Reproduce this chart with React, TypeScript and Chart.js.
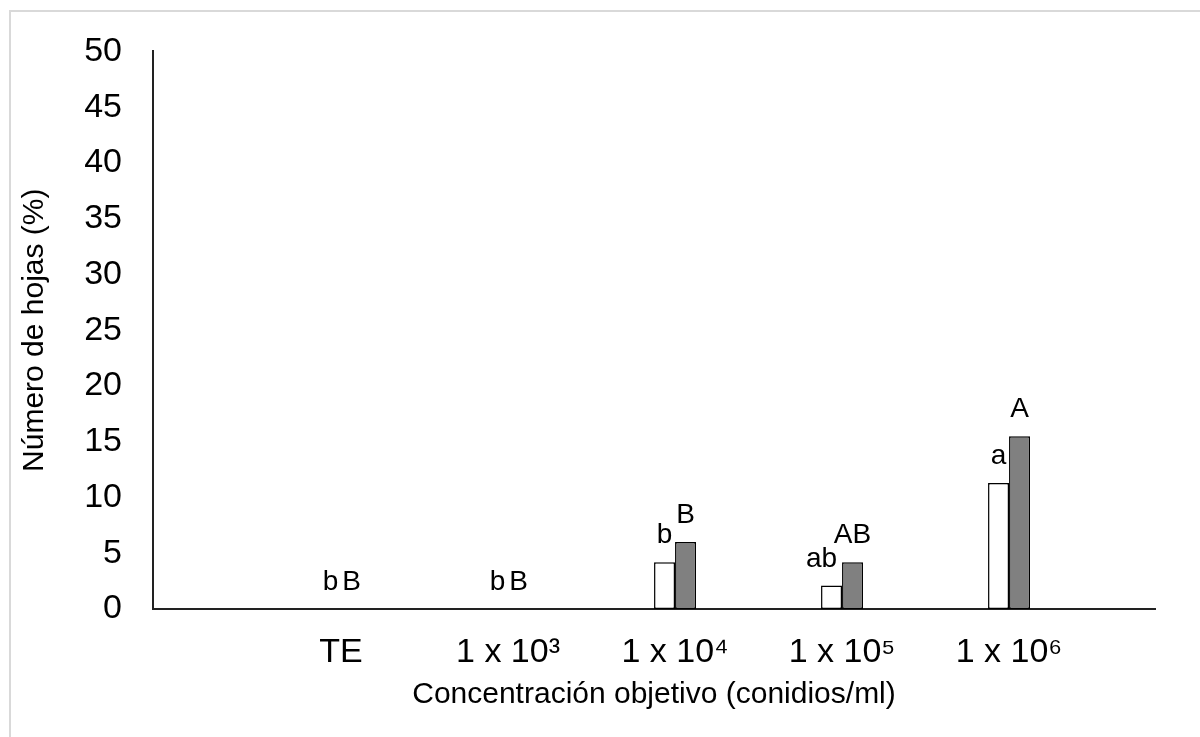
import React, { useEffect, useRef } from 'react';
import { Chart, registerables } from 'chart.js';

Chart.register(...registerables);

const categories = ['TE', '1 x 10³', '1 x 10⁴', '1 x 10⁵', '1 x 10⁶'];
const positions = [1, 2, 3, 4, 5];
const seriesWhite = [0, 0, 4.2, 2.1, 11.3];
const seriesGray = [0, 0, 6.0, 4.2, 15.5];
const lettersWhite = ['b', 'b', 'b', 'ab', 'a'];
const lettersGray = ['B', 'B', 'B', 'AB', 'A'];
const yMin = 0;
const yMax = 50;
const yStep = 5;

const FONT = '"Liberation Sans", "DejaVu Sans", Arial, sans-serif';

const letterPlugin = {
  id: 'letters',
  afterDatasetsDraw(chart: any) {
    const ctx = chart.ctx;
    ctx.save();
    ctx.font = `28px ${FONT}`;
    ctx.fillStyle = '#000';
    ctx.textAlign = 'center';
    ctx.textBaseline = 'alphabetic';
    const sets = [lettersWhite, lettersGray];
    chart.data.datasets.forEach((_ds: any, di: number) => {
      const meta = chart.getDatasetMeta(di);
      meta.data.forEach((el: any, i: number) => {
        const txt = sets[di][i];
        const shift = di === 0 && txt.length > 1 ? -10 : 0;
        ctx.fillText(txt, el.x + shift, el.y - 19);
      });
    });
    ctx.restore();
  },
};

export default function App() {
  const ref = useRef<HTMLCanvasElement | null>(null);

  useEffect(() => {
    if (!ref.current) return;
    Chart.defaults.font.family = FONT;
    Chart.defaults.color = '#000';
    const chart = new Chart(ref.current, {
      type: 'bar',
      data: {
        datasets: [
          {
            label: 'Serie 1',
            data: positions.map((p, i) => ({ x: p, y: seriesWhite[i] })),
            backgroundColor: '#ffffff',
            borderColor: '#000000',
            borderWidth: 1.5,
            borderSkipped: false,
            categoryPercentage: 0.2515,
            barPercentage: 1,
          },
          {
            label: 'Serie 2',
            data: positions.map((p, i) => ({ x: p, y: seriesGray[i] })),
            backgroundColor: '#808080',
            borderColor: '#000000',
            borderWidth: 1.5,
            borderSkipped: false,
            categoryPercentage: 0.2515,
            barPercentage: 1,
          },
        ],
      },
      options: {
        animation: false,
        responsive: false,
        maintainAspectRatio: false,
        layout: { padding: { left: 0, top: 43, right: 45, bottom: 0 } },
        plugins: {
          legend: { display: false },
          tooltip: { enabled: false },
        },
        scales: {
          x: {
            type: 'linear',
            offset: false,
            min: -0.126,
            max: 5.874,
            afterBuildTicks: (scale: any) => {
              scale.ticks = positions.map((v) => ({ value: v }));
            },
            afterFit: (scale: any) => {
              scale.height = 128;
            },
            grid: { display: false, drawTicks: false, offset: false },
            border: { display: true, color: '#222', width: 2 },
            ticks: {
              autoSkip: false,
              maxRotation: 0,
              padding: 23,
              color: '#000',
              font: { size: 34, family: FONT },
              callback: (v: any) => {
                const idx = positions.indexOf(Number(v));
                return idx >= 0 ? categories[idx] : '';
              },
            },
            title: {
              display: true,
              text: 'Concentración objetivo (conidios/ml)',
              color: '#000',
              font: { size: 30, family: FONT },
              padding: { top: 0, bottom: 24 },
            },
          },
          y: {
            min: yMin,
            max: yMax,
            afterFit: (scale: any) => {
              scale.width = 153;
            },
            grid: { display: false, drawTicks: false },
            border: { display: true, color: '#222', width: 2 },
            ticks: {
              stepSize: yStep,
              padding: 31,
              color: '#000',
              font: { size: 34, family: FONT },
            },
            title: {
              display: true,
              text: 'Número de hojas (%)',
              color: '#000',
              font: { size: 30, family: FONT },
              padding: { top: 17, bottom: 0 },
            },
          },
        },
      },
      plugins: [letterPlugin],
    } as any);
    return () => chart.destroy();
  }, []);

  return (
    <div style={{ position: 'absolute', left: 0, top: 0, width: 1200, height: 737, background: '#fff' }}>
      <div
        style={{
          position: 'absolute',
          left: 9,
          top: 10,
          width: 1191,
          height: 727,
          boxSizing: 'border-box',
          borderTop: '2px solid #d9d9d9',
          borderLeft: '2px solid #d9d9d9',
        }}
      />
      <canvas
        ref={ref}
        width={1200}
        height={737}
        style={{ position: 'absolute', left: 0, top: 0, display: 'block' }}
      />
    </div>
  );
}
